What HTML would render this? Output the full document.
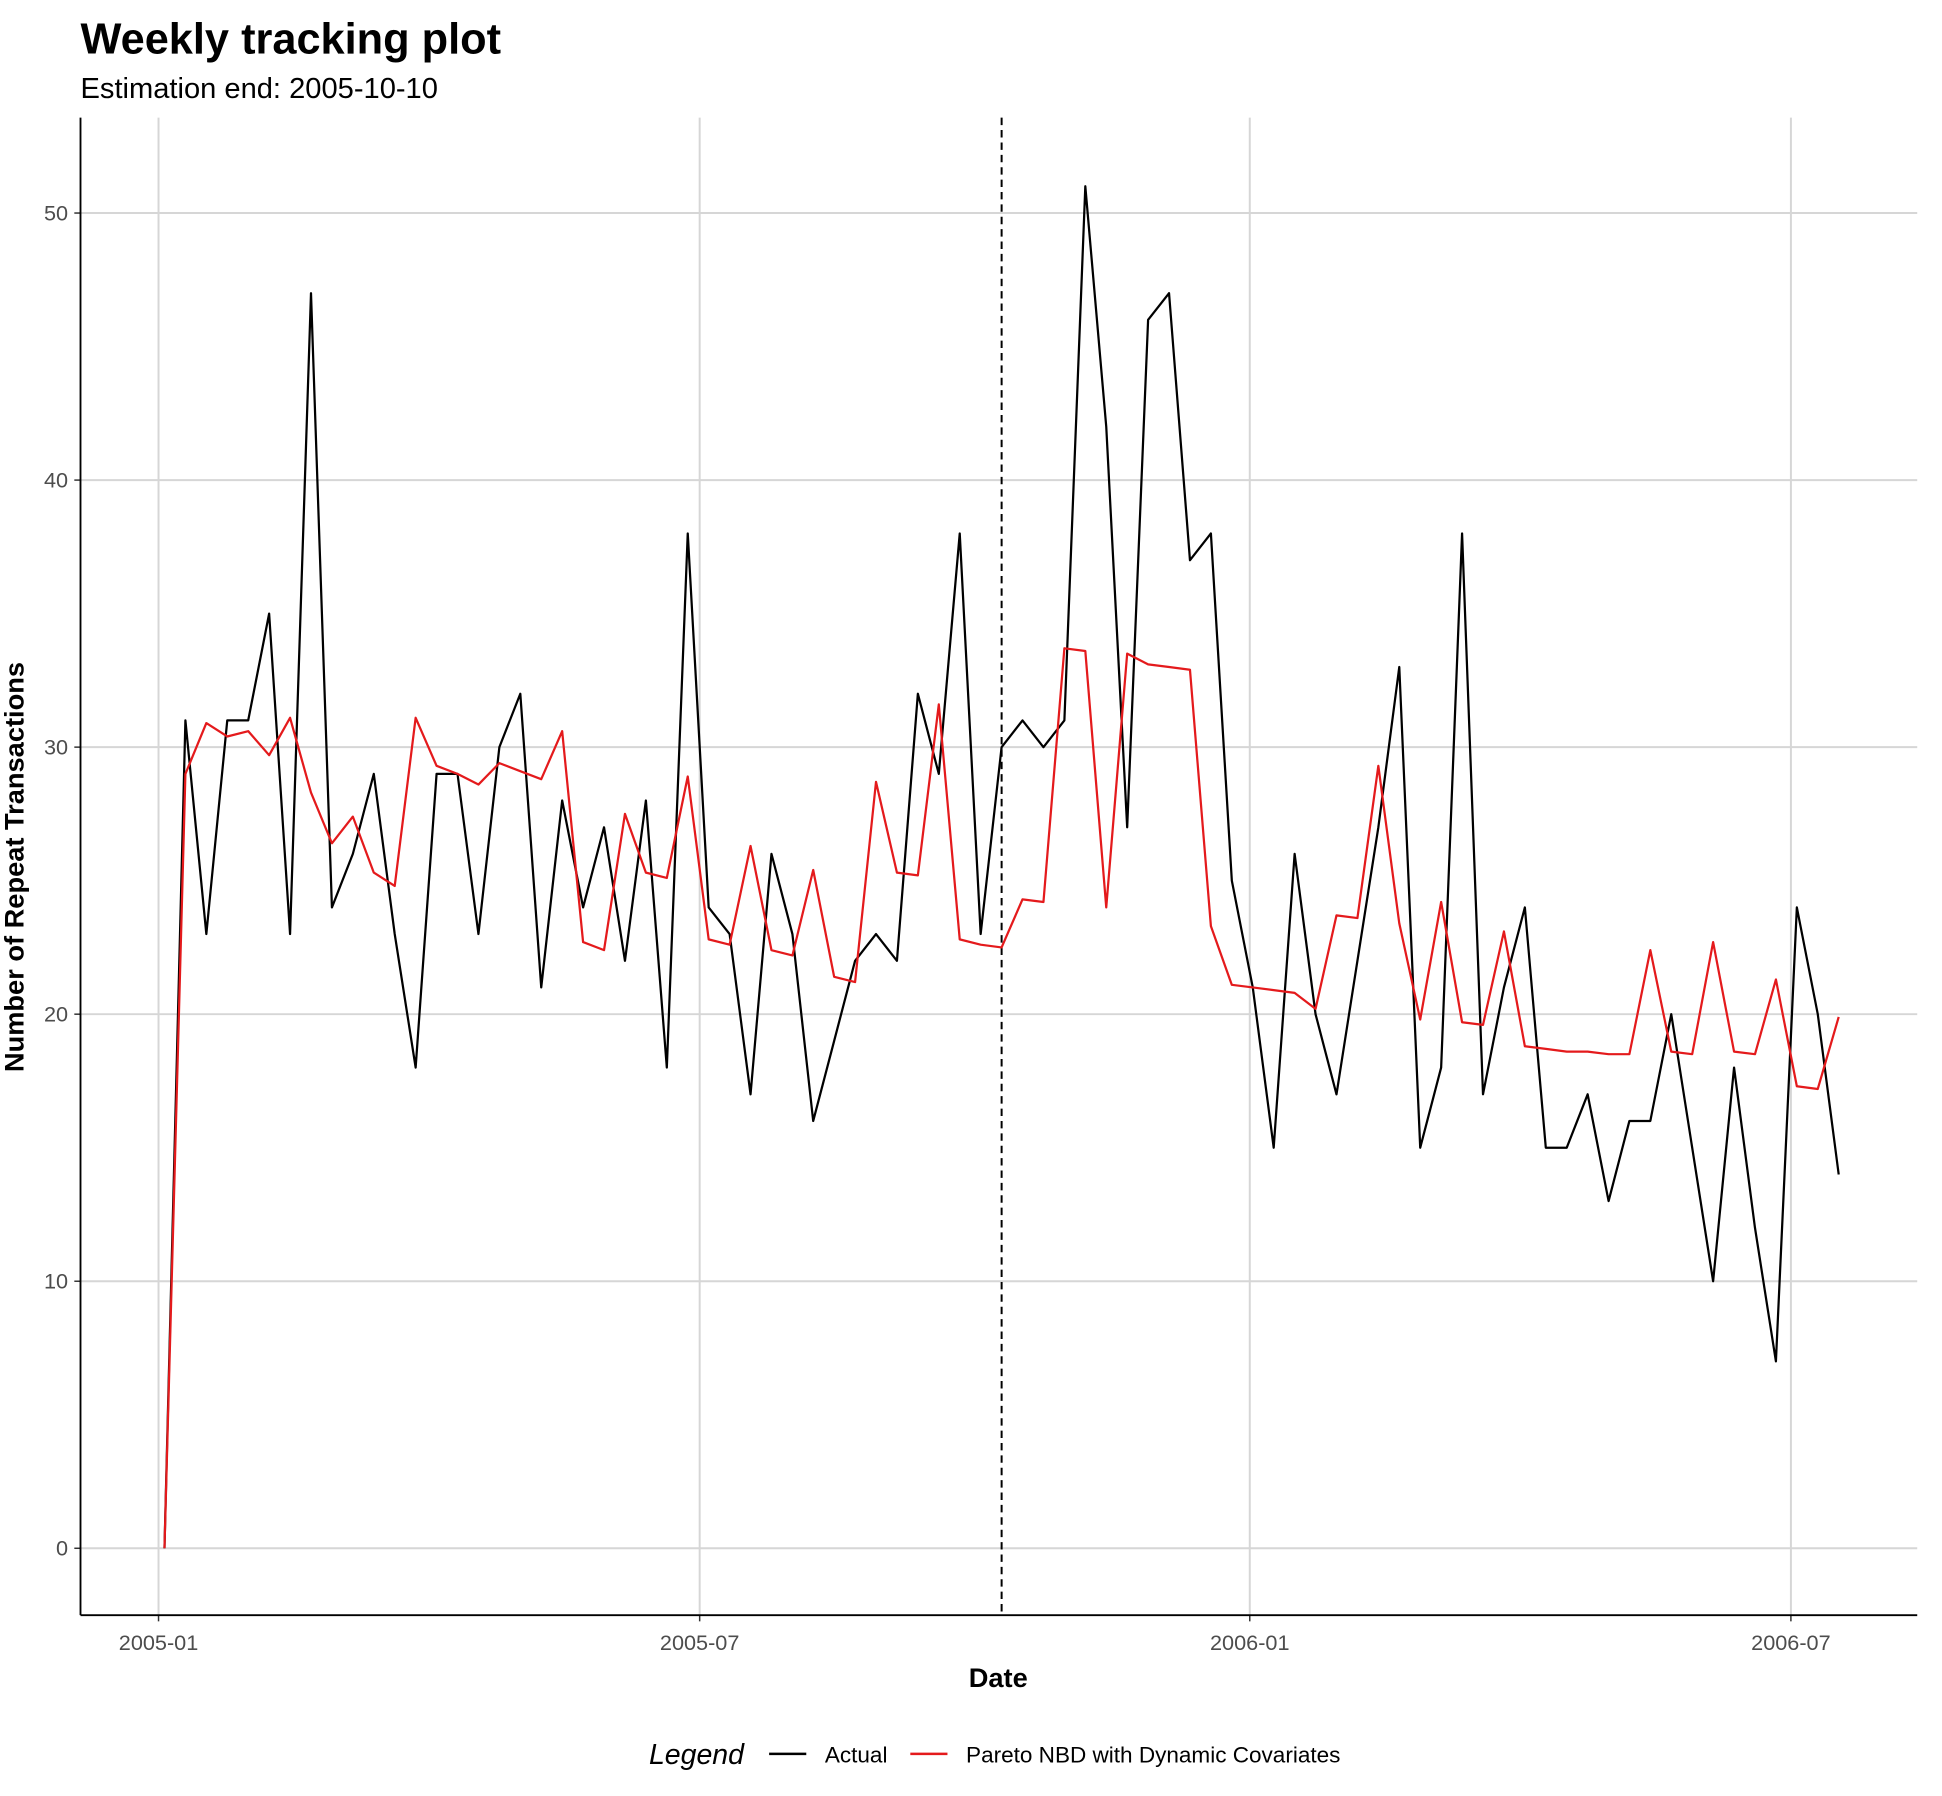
<!DOCTYPE html>
<html><head><meta charset="utf-8"><style>
html,body{margin:0;padding:0;background:#fff;}
svg{display:block;font-family:"Liberation Sans",Arial,sans-serif;}
</style></head><body>
<svg id="chart" width="1942" height="1796" viewBox="0 0 1568 1450" preserveAspectRatio="none">
<text x="65" y="43" font-size="35" font-weight="bold" fill="#000">Weekly tracking plot</text>
<text x="65" y="79" font-size="23.5" fill="#000">Estimation end: 2005-10-10</text>
<g id="grid"></g>
<g id="axes"></g>
<g id="series"></g>
<text x="806" y="1362" font-size="22" font-weight="bold" text-anchor="middle">Date</text>
<text transform="translate(19,700) rotate(-90)" font-size="22" font-weight="bold" text-anchor="middle">Number of Repeat Transactions</text>
<g>
<text x="524" y="1424" font-size="23" font-style="italic">Legend</text>
<line x1="621" y1="1416" x2="651" y2="1416" stroke="#000" stroke-width="2"/>
<text x="666" y="1423" font-size="18.2">Actual</text>
<line x1="735" y1="1416" x2="765" y2="1416" stroke="#e41a1c" stroke-width="2"/>
<text x="780" y="1423" font-size="18.2">Pareto NBD with Dynamic Covariates</text>
</g>
</svg>
<script>
const actual = [0,31,23,31,31,35,23,47,24,26,29,23,18,29,29,23,30,32,21,28,24,27,22,28,18,38,24,23,17,26,23,16,19,22,23,22,32,29,38,23,30,31,30,31,51,42,27,46,47,37,38,25,21,15,26,20,17,22,27,33,15,18,38,17,21,24,15,15,17,13,16,16,20,15,10,18,12,7,24,20,14];
const model = [0,29,30.9,30.4,30.6,29.7,31.1,28.3,26.4,27.4,25.3,24.8,31.1,29.3,29.0,28.6,29.4,29.1,28.8,30.6,22.7,22.4,27.5,25.3,25.1,28.9,22.8,22.6,26.3,22.4,22.2,25.4,21.4,21.2,28.7,25.3,25.2,31.6,22.8,22.6,22.5,24.3,24.2,33.7,33.6,24.0,33.5,33.1,33.0,32.9,23.3,21.1,21.0,20.9,20.8,20.2,23.7,23.6,29.3,23.4,19.8,24.2,19.7,19.6,23.1,18.8,18.7,18.6,18.6,18.5,18.5,22.4,18.6,18.5,22.7,18.6,18.5,21.3,17.3,17.2,19.9];
const yTicks = [0,10,20,30,40,50];
const xTickLabels = ["2005-01","2005-07","2006-01","2006-07"];
const firstWeek = "2005-01-03";
const estimationEnd = "2005-10-10";

const NS="http://www.w3.org/2000/svg";
const day=86400000;
const d0=Date.UTC(2005,0,1), d1=Date.UTC(2006,6,1);
function xScale(t){return 128+(t-d0)/(d1-d0)*(1446-128);}
function yScale(v){return 1250-v*(1250-172)/50;}
function parse(s){const p=s.split('-').map(Number);return Date.UTC(p[0],p[1]-1,p[2]||1);}
function mk(tag,attrs,parent){const e=document.createElementNS(NS,tag);for(const k in attrs)e.setAttribute(k,attrs[k]);parent.appendChild(e);return e;}
const grid=document.getElementById('grid'), axes=document.getElementById('axes'), series=document.getElementById('series');
const L=65,R=1548,T=95,B=1304;
yTicks.forEach(v=>{
  const y=yScale(v);
  const g=mk('line',{x1:L,x2:R,y1:y,y2:y,stroke:'#d6d6d6','stroke-width':1.6},grid);
  
  
  const t=mk('line',{x1:L-5,x2:L,y1:y,y2:y,stroke:'#333','stroke-width':1.2},axes);
  
  
  const lb=mk('text',{x:L-10,y:y+6,'font-size':17.5,fill:'#4d4d4d','text-anchor':'end'},axes);
  lb.textContent=v;
  
  
});
xTickLabels.forEach(s=>{
  const x=xScale(parse(s));
  const g=mk('line',{x1:x,x2:x,y1:T,y2:B,stroke:'#d6d6d6','stroke-width':1.6},grid);
  
  
  const t=mk('line',{x1:x,x2:x,y1:B,y2:B+5,stroke:'#333','stroke-width':1.2},axes);
  
  
  const lb=mk('text',{x:x,y:B+28,'font-size':17.5,fill:'#4d4d4d','text-anchor':'middle'},axes);
  lb.textContent=s;
  
  
});
const ya=mk('line',{x1:L,x2:L,y1:T,y2:B,stroke:'#000','stroke-width':1.5},axes);


const xa=mk('line',{x1:L,x2:R,y1:B,y2:B,stroke:'#000','stroke-width':1.5},axes);


const ex=xScale(parse(estimationEnd));
const dl=mk('line',{x1:ex,x2:ex,y1:T,y2:B,stroke:'#000','stroke-width':1.6,'stroke-dasharray':'6,4'},series);


const fw=parse(firstWeek);
function pts(arr){return arr.map((v,i)=>xScale(fw+i*7*day).toFixed(1)+','+yScale(v).toFixed(1)).join(' ');}
const pa=mk('polyline',{points:pts(actual),fill:'none',stroke:'#000','stroke-width':1.8,'stroke-linejoin':'round'},series);


const pm=mk('polyline',{points:pts(model),fill:'none',stroke:'#e41a1c','stroke-width':1.8,'stroke-linejoin':'round'},series);


</script>
</body></html>
